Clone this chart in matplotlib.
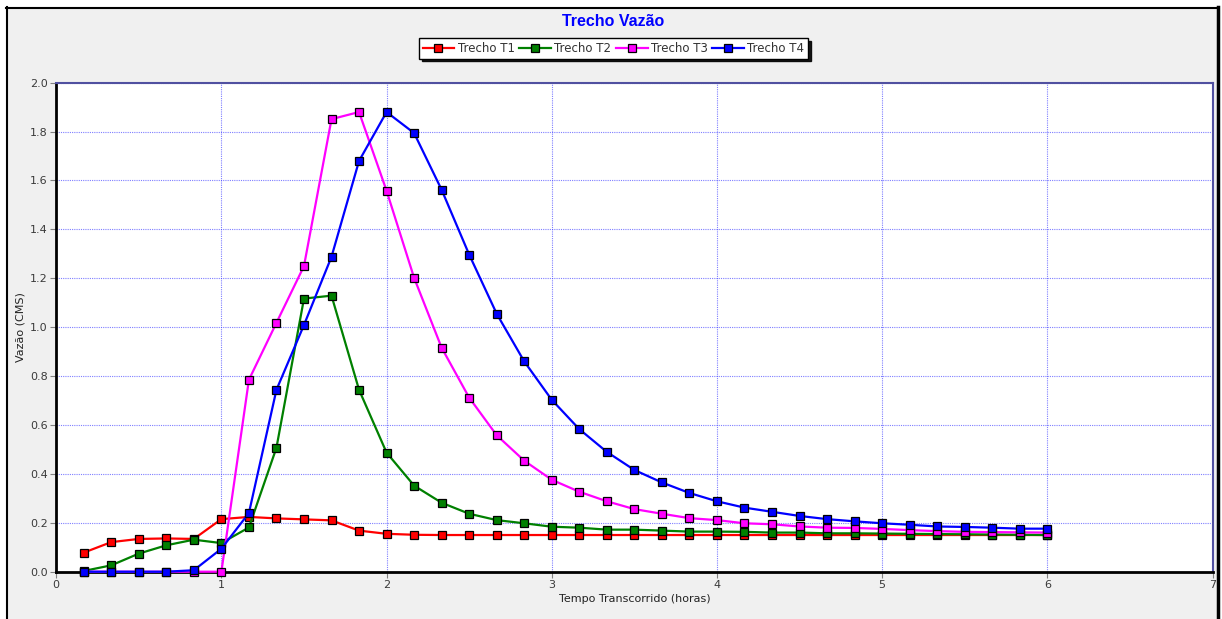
import matplotlib
matplotlib.use("Agg")
import matplotlib.pyplot as plt
from matplotlib.patches import Rectangle
from matplotlib.ticker import MultipleLocator, FormatStrFormatter

# ---- data ----
time_h = [k / 6 for k in range(1, 37)]

t1 = [0.078, 0.121, 0.134, 0.136, 0.134, 0.215, 0.224, 0.218, 0.214, 0.210,
      0.168, 0.155, 0.151, 0.150, 0.150, 0.150, 0.150, 0.150, 0.150, 0.150,
      0.150, 0.150, 0.150, 0.150, 0.150, 0.150, 0.150, 0.150, 0.150, 0.150,
      0.150, 0.150, 0.150, 0.150, 0.150, 0.150]
t2 = [0.003, 0.026, 0.074, 0.108, 0.131, 0.117, 0.181, 0.507, 1.117, 1.129,
      0.744, 0.487, 0.352, 0.282, 0.237, 0.211, 0.198, 0.184, 0.180, 0.172,
      0.172, 0.168, 0.164, 0.164, 0.163, 0.160, 0.160, 0.157, 0.157, 0.156,
      0.155, 0.154, 0.153, 0.152, 0.151, 0.150]
t3 = [0.0, 0.0, 0.0, 0.0, 0.0, 0.0, 0.785, 1.018, 1.250, 1.851,
      1.880, 1.558, 1.202, 0.916, 0.712, 0.558, 0.454, 0.376, 0.327, 0.288,
      0.256, 0.237, 0.219, 0.211, 0.198, 0.194, 0.185, 0.180, 0.179, 0.175,
      0.170, 0.166, 0.163, 0.162, 0.161, 0.160]
t4 = [0.0, 0.0, 0.0, 0.0, 0.006, 0.094, 0.240, 0.744, 1.009, 1.288,
      1.680, 1.880, 1.794, 1.562, 1.297, 1.055, 0.860, 0.703, 0.583, 0.490,
      0.416, 0.365, 0.322, 0.288, 0.262, 0.245, 0.228, 0.215, 0.206, 0.198,
      0.192, 0.185, 0.183, 0.180, 0.176, 0.176]

series_names = ["Trecho T1", "Trecho T2", "Trecho T3", "Trecho T4"]
series_values = [t1, t2, t3, t4]
series_colors = ["#ff0000", "#008000", "#ff00ff", "#0000ff"]

title = "Trecho Vazão"
xlabel = "Tempo Transcorrido (horas)"
ylabel = "Vazão (CMS)"

# ---- figure ----
W, H = 1222, 619
fig = plt.figure(figsize=(W / 100, H / 100), dpi=100)
fig.patch.set_facecolor("white")

# gray panel with black frame
panel = Rectangle((6 / W, 0), (1217 - 6) / W, (H - 7) / H, transform=fig.transFigure,
                  facecolor="#f0f0f0", edgecolor="none", zorder=-10)
fig.patches.append(panel)
fig.add_artist(plt.Line2D([6.5 / W, 6.5 / W], [0, (H - 7) / H], color="black", lw=1.5,
                          transform=fig.transFigure))
fig.add_artist(plt.Line2D([6 / W, 1218 / W], [(H - 7.5) / H, (H - 7.5) / H], color="black",
                          lw=1.5, transform=fig.transFigure))
fig.add_artist(plt.Line2D([1217.5 / W, 1217.5 / W], [0, (H - 7) / H], color="black", lw=2.5,
                          transform=fig.transFigure))

left, right, top, bottom = 56.2, 1212.5, 82.7, 571.7
ax = fig.add_axes([left / W, (H - bottom) / H, (right - left) / W, (bottom - top) / H])
ax.set_facecolor("white")

for name, vals, col in zip(series_names, series_values, series_colors):
    ax.plot(time_h, vals, color=col, lw=1.6, marker="s", markersize=5.8,
            markerfacecolor=col, markeredgecolor="black", markeredgewidth=0.9,
            label=name, zorder=3, clip_on=False)

ax.set_xlim(0, 7)
ax.set_ylim(0, 2.0)
ax.xaxis.set_major_locator(MultipleLocator(1))
ax.yaxis.set_major_locator(MultipleLocator(0.2))
ax.yaxis.set_major_formatter(FormatStrFormatter("%.1f"))
ax.grid(True, color="#3a3aff", linestyle=(0, (1, 1)), lw=0.8, alpha=0.65, zorder=1)

ax.tick_params(axis="both", labelsize=8, labelcolor="#3a3a3a", color="#808080",
               length=4, width=0.8, direction="out", pad=2)

for s in ["left", "bottom"]:
    ax.spines[s].set_color("black")
    ax.spines[s].set_linewidth(2)
for s in ["top", "right"]:
    ax.spines[s].set_color("#5050a0")
    ax.spines[s].set_linewidth(1.5)

ax.set_xlabel(xlabel, fontsize=8, color="#222222", labelpad=3)
ax.set_ylabel(ylabel, fontsize=8, color="#222222", labelpad=3)

fig.text(613 / W, 1 - 21 / H, title, ha="center", va="center", fontsize=11.5,
         fontweight="bold", color="#0000ff", family="Liberation Sans")

handles, labels = ax.get_legend_handles_labels()
leg = fig.legend(handles, labels, loc="center", bbox_to_anchor=(613.5 / W, 1 - 48.5 / H),
                 ncol=4, fontsize=8.5, frameon=True, fancybox=False,
                 shadow={"color": "black", "alpha": 0.9},
                 handlelength=2.7, handletextpad=0.3, columnspacing=0.35,
                 borderpad=0.3, borderaxespad=0, markerscale=0.9)
leg.get_frame().set_edgecolor("black")
leg.get_frame().set_linewidth(1.0)
for t in leg.get_texts():
    t.set_color("#333333")

fig.savefig("out.png", dpi=100, facecolor=fig.get_facecolor())
